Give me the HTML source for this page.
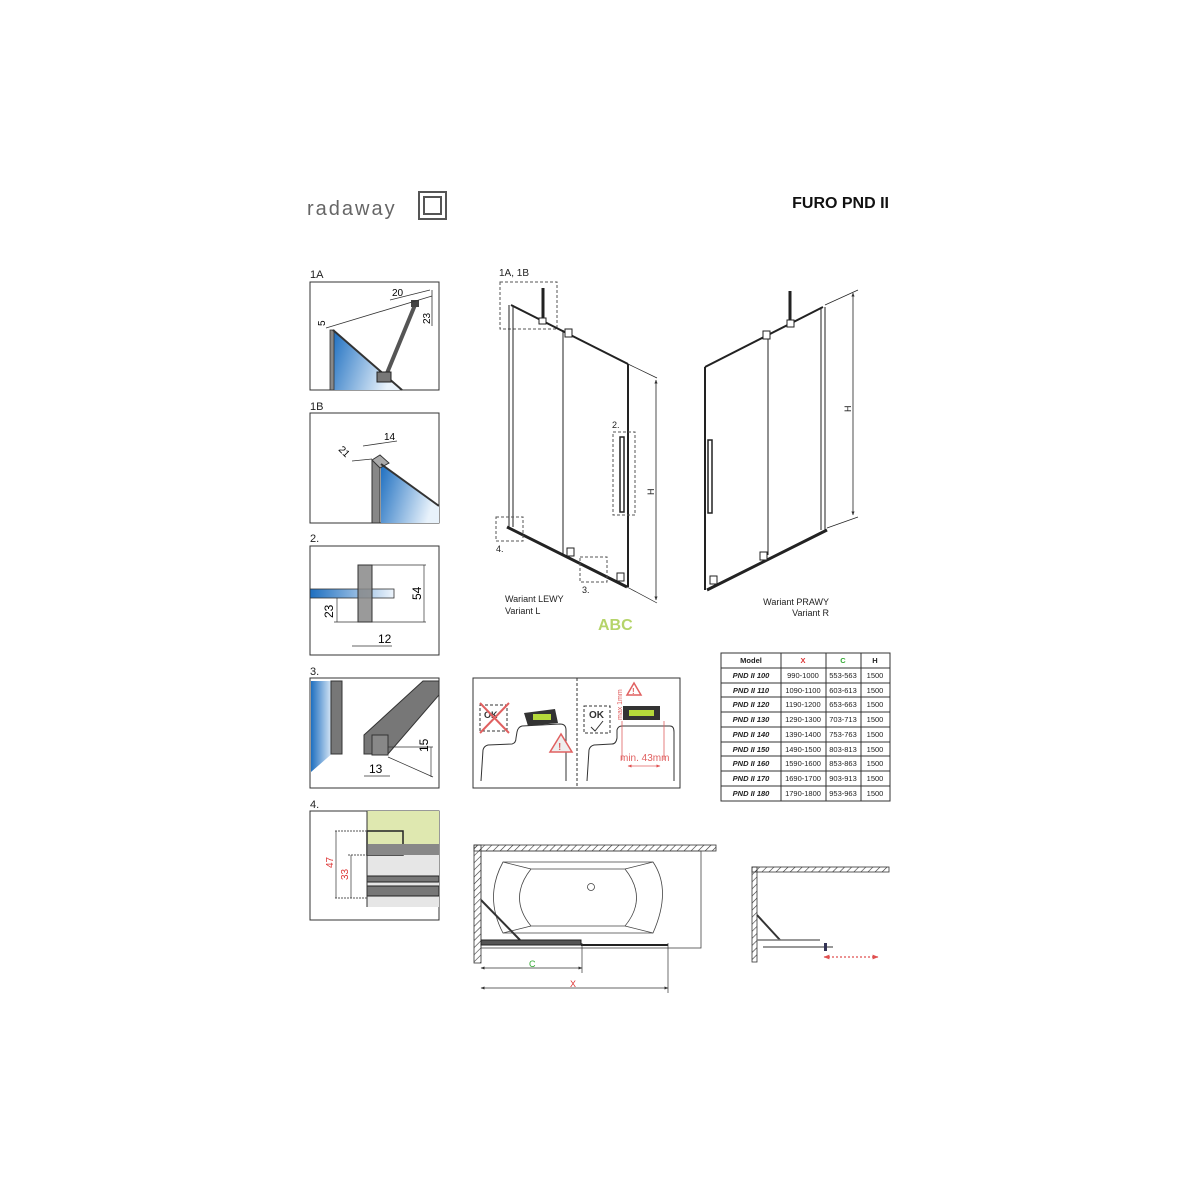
<!DOCTYPE html>
<html><head><meta charset="utf-8"><style>
html,body{margin:0;padding:0;background:#fff;}
svg{display:block;font-family:"Liberation Sans",sans-serif;}
</style></head><body>
<svg width="1200" height="1200" viewBox="0 0 1200 1200" xmlns="http://www.w3.org/2000/svg">
<defs>
<linearGradient id="g1" x1="0" y1="0" x2="1" y2="0.3"><stop offset="0" stop-color="#1e6fc0"/><stop offset="1" stop-color="#e8f2fb"/></linearGradient>
<linearGradient id="g2" x1="0" y1="0" x2="1" y2="0"><stop offset="0" stop-color="#1e6fc0"/><stop offset="1" stop-color="#eef5fc"/></linearGradient>
<pattern id="hatch" width="5" height="5" patternUnits="userSpaceOnUse" patternTransform="rotate(45)"><line x1="0" y1="0" x2="0" y2="5" stroke="#333" stroke-width="1.2"/></pattern>
<marker id="ar" viewBox="0 0 10 10" refX="9" refY="5" markerWidth="5" markerHeight="5" orient="auto-start-reverse"><path d="M0,1 L10,5 L0,9 Z" fill="#333"/></marker>
<marker id="arr" viewBox="0 0 10 10" refX="9" refY="5" markerWidth="5" markerHeight="5" orient="auto-start-reverse"><path d="M0,1 L10,5 L0,9 Z" fill="#e05050"/></marker>
</defs>
<!-- header -->
<text x="307" y="215" font-size="20" fill="#666" letter-spacing="2">radaway</text>
<rect x="419" y="192" width="27" height="27" fill="none" stroke="#555" stroke-width="2"/>
<rect x="424" y="197" width="17" height="17" fill="none" stroke="#555" stroke-width="2"/>
<text x="889" y="208" font-size="16" font-weight="bold" text-anchor="end" fill="#111">FURO PND II</text>

<g font-size="11" fill="#222">
<text x="310" y="278">1A</text><text x="310" y="410">1B</text><text x="310" y="542">2.</text><text x="310" y="675">3.</text><text x="310" y="808">4.</text>
</g>
<!-- 1A -->
<rect x="310" y="282" width="129" height="108" fill="#fff" stroke="#333"/>
<polygon points="333,330 400,390 333,390" fill="url(#g1)"/>
<rect x="330" y="330" width="4" height="60" fill="#888" stroke="#333" stroke-width="0.8"/>
<line x1="333" y1="330" x2="402" y2="390" stroke="#333" stroke-width="2"/>
<line x1="415" y1="305" x2="385" y2="378" stroke="#555" stroke-width="4"/>
<rect x="411" y="300" width="8" height="7" fill="#444"/>
<rect x="377" y="372" width="14" height="10" fill="#777" stroke="#222"/>
<line x1="326" y1="328" x2="432" y2="296" stroke="#333" stroke-width="0.8"/>
<line x1="390" y1="300" x2="430" y2="290" stroke="#333" stroke-width="0.8"/>
<line x1="432" y1="290" x2="432" y2="326" stroke="#333" stroke-width="0.8"/>
<text x="392" y="296" font-size="10">20</text>
<text transform="translate(430,324) rotate(-90)" font-size="10">23</text>
<text transform="translate(325,326) rotate(-90)" font-size="10">5</text>
<!-- 1B -->
<rect x="310" y="413" width="129" height="110" fill="#fff" stroke="#333"/>
<polygon points="381,464 439,506 439,523 381,523" fill="url(#g1)"/>
<rect x="372" y="460" width="8" height="63" fill="#888" stroke="#333"/>
<polygon points="372,460 380,455 389,463 380,468" fill="#aaa" stroke="#333"/>
<line x1="381" y1="464" x2="439" y2="506" stroke="#333" stroke-width="2"/>
<line x1="363" y1="446" x2="397" y2="441" stroke="#333" stroke-width="0.8"/>
<line x1="352" y1="461" x2="372" y2="459" stroke="#333" stroke-width="0.8"/>
<text x="384" y="440" font-size="10">14</text>
<text transform="translate(338,450) rotate(45)" font-size="10">21</text>
<!-- 2 -->
<rect x="310" y="546" width="129" height="109" fill="#fff" stroke="#333"/>
<rect x="310" y="589" width="84" height="9" fill="url(#g2)" stroke="#333" stroke-width="0.8"/>
<rect x="358" y="565" width="14" height="57" fill="#888" fill-opacity="0.85" stroke="#333"/>
<line x1="372" y1="565" x2="426" y2="565" stroke="#333" stroke-width="0.7"/>
<line x1="334" y1="622" x2="426" y2="622" stroke="#333" stroke-width="0.7"/>
<line x1="424" y1="565" x2="424" y2="622" stroke="#333" stroke-width="0.7"/>
<line x1="337" y1="598" x2="337" y2="622" stroke="#333" stroke-width="0.7"/>
<line x1="352" y1="646" x2="392" y2="646" stroke="#333" stroke-width="0.7"/>
<text x="378" y="643" font-size="12">12</text>
<text transform="translate(421,600) rotate(-90)" font-size="12">54</text>
<text transform="translate(333,618) rotate(-90)" font-size="12">23</text>
<!-- 3 -->
<rect x="310" y="678" width="129" height="110" fill="#fff" stroke="#333"/>
<polygon points="311,681 334,681 334,752 311,772" fill="url(#g2)"/>
<rect x="331" y="681" width="11" height="73" fill="#777" stroke="#333"/>
<polygon points="364,735 423,681 439,681 439,695 388,754 364,754" fill="#777" stroke="#333"/>
<rect x="372" y="735" width="16" height="20" fill="#888" stroke="#333"/>
<line x1="388" y1="747" x2="433" y2="747" stroke="#333" stroke-width="0.7"/>
<line x1="388" y1="757" x2="433" y2="777" stroke="#333" stroke-width="0.7"/>
<line x1="431" y1="747" x2="431" y2="777" stroke="#333" stroke-width="0.7"/>
<line x1="364" y1="776" x2="390" y2="776" stroke="#333" stroke-width="0.7"/>
<text x="369" y="773" font-size="12">13</text>
<text transform="translate(428,752) rotate(-90)" font-size="12">15</text>
<!-- 4 -->
<rect x="310" y="811" width="129" height="109" fill="#fff" stroke="#333"/>
<rect x="367" y="811" width="72" height="36" fill="#dfe8b0"/>
<rect x="367" y="847" width="72" height="60" fill="#e6e6e6"/>
<rect x="367" y="831" width="36" height="24" fill="#dfe8b0" stroke="#222" stroke-width="1.5"/>
<rect x="367" y="844" width="72" height="11" fill="#888"/>
<rect x="367" y="876" width="72" height="6" fill="#777" stroke="#222"/>
<rect x="367" y="886" width="72" height="10" fill="#777" stroke="#222"/>
<line x1="367" y1="811" x2="367" y2="907" stroke="#333"/>
<line x1="335" y1="831" x2="367" y2="831" stroke="#555" stroke-dasharray="2,1"/>
<line x1="348" y1="855" x2="367" y2="855" stroke="#555" stroke-dasharray="2,1"/>
<line x1="335" y1="898" x2="367" y2="898" stroke="#555" stroke-dasharray="2,1"/>
<line x1="336" y1="831" x2="336" y2="898" stroke="#333" stroke-width="0.7"/>
<line x1="351" y1="855" x2="351" y2="898" stroke="#333" stroke-width="0.7"/>
<text transform="translate(333,868) rotate(-90)" font-size="10" fill="#d33">47</text>
<text transform="translate(348,880) rotate(-90)" font-size="10" fill="#d33">33</text>

<!-- Left variant -->
<g stroke="#222" fill="none">
<text x="499" y="276" font-size="10" stroke="none" fill="#222">1A, 1B</text>
<rect x="500" y="282" width="57" height="47" stroke-dasharray="3,2" stroke="#555"/>
<line x1="543" y1="288" x2="543" y2="318" stroke-width="3"/>
<line x1="511" y1="305" x2="628" y2="364" stroke-width="2"/>
<line x1="509" y1="305" x2="509" y2="527" stroke-width="1"/>
<line x1="513" y1="305" x2="513" y2="527" stroke-width="1"/>
<line x1="563" y1="330" x2="563" y2="555" stroke-width="1"/>
<line x1="628" y1="364" x2="628" y2="587" stroke-width="2"/>
<line x1="507" y1="527" x2="627" y2="587" stroke-width="3"/>
<rect x="539" y="318" width="7" height="6" fill="#fff"/>
<rect x="565" y="329" width="7" height="8" fill="#fff"/>
<rect x="567" y="548" width="7" height="8" fill="#fff"/>
<rect x="617" y="573" width="7" height="8" fill="#fff"/>
<rect x="620" y="437" width="4" height="75" stroke-width="1.5"/>
<rect x="613" y="432" width="22" height="83" stroke-dasharray="3,2" stroke="#555"/>
<rect x="496" y="517" width="27" height="24" stroke-dasharray="3,2" stroke="#555"/>
<rect x="580" y="557" width="27" height="25" stroke-dasharray="3,2" stroke="#555"/>
<line x1="628" y1="364" x2="657" y2="378" stroke-width="0.7"/>
<line x1="627" y1="587" x2="657" y2="603" stroke-width="0.7"/>
<line x1="656" y1="380" x2="656" y2="600" stroke-width="0.8" marker-start="url(#ar)" marker-end="url(#ar)"/>
</g>
<g font-size="9" fill="#222">
<text x="612" y="428">2.</text><text x="496" y="552">4.</text><text x="582" y="593">3.</text>
<text x="505" y="602">Wariant LEWY</text><text x="505" y="614">Variant L</text>
<text transform="translate(654,495) rotate(-90)">H</text>
<text x="598" y="630" font-size="16" font-weight="bold" fill="#b5d46a">ABC</text>
</g>
<!-- Right variant -->
<g stroke="#222" fill="none">
<line x1="790" y1="291" x2="790" y2="325" stroke-width="3"/>
<line x1="705" y1="367" x2="823" y2="307" stroke-width="2"/>
<line x1="705" y1="367" x2="705" y2="590" stroke-width="2"/>
<line x1="768" y1="335" x2="768" y2="555" stroke-width="1"/>
<line x1="821" y1="307" x2="821" y2="530" stroke-width="1"/>
<line x1="825" y1="307" x2="825" y2="530" stroke-width="1"/>
<line x1="707" y1="590" x2="827" y2="530" stroke-width="3"/>
<rect x="708" y="440" width="4" height="73" stroke-width="1.5"/>
<rect x="787" y="320" width="7" height="7" fill="#fff"/>
<rect x="763" y="331" width="7" height="8" fill="#fff"/>
<rect x="760" y="552" width="7" height="8" fill="#fff"/>
<rect x="710" y="576" width="7" height="8" fill="#fff"/>
<line x1="825" y1="305" x2="858" y2="290" stroke-width="0.7"/>
<line x1="827" y1="528" x2="858" y2="517" stroke-width="0.7"/>
<line x1="853" y1="293" x2="853" y2="515" stroke-width="0.8" marker-start="url(#ar)" marker-end="url(#ar)"/>
</g>
<g font-size="9" fill="#222">
<text transform="translate(851,412) rotate(-90)">H</text>
<text x="829" y="605" text-anchor="end">Wariant PRAWY</text><text x="829" y="616" text-anchor="end">Variant R</text>
</g>

<!-- level panel -->
<rect x="473" y="678" width="207" height="110" fill="#fff" stroke="#333"/>
<line x1="577" y1="678" x2="577" y2="788" stroke="#333" stroke-dasharray="3,2"/>
<path d="M481,781 L483,750 Q484,746 488,745 L512,744 Q516,743 516,738 L517,732 Q518,727 522,726 L560,724 Q566,724 566,730 L566,781" fill="none" stroke="#333"/>
<path d="M587,781 L589,750 Q590,746 594,745 L612,744 Q616,744 617,738 L617,730 Q618,726 622,726 L670,726 Q674,726 674,732 L674,781" fill="none" stroke="#333"/>
<polygon points="524,713 555,709 558,723 528,726" fill="#333"/>
<rect x="533" y="714" width="18" height="6" fill="#b5d93a"/>
<rect x="623" y="706" width="37" height="14" fill="#333"/>
<rect x="629" y="710" width="25" height="6" fill="#b5d93a"/>
<rect x="480" y="705" width="27" height="26" fill="none" stroke="#333" stroke-dasharray="3,2"/>
<text x="484" y="718" font-size="9" font-weight="bold" fill="#333">OK</text>
<line x1="480" y1="703" x2="509" y2="733" stroke="#e06060" stroke-width="2"/>
<line x1="509" y1="703" x2="480" y2="733" stroke="#e06060" stroke-width="2"/>
<polygon points="561,734 550,752 572,752" fill="#eee" stroke="#e06060" stroke-width="1.5"/>
<text x="558" y="750" font-size="10" font-weight="bold" fill="#e06060">!</text>
<rect x="584" y="706" width="26" height="27" fill="none" stroke="#333" stroke-dasharray="3,2"/>
<text x="589" y="718" font-size="10" font-weight="bold" fill="#333">OK</text>
<path d="M591,727 L595,731 L603,721" fill="none" stroke="#333"/>
<polygon points="634,683 627,695 641,695" fill="none" stroke="#e06060" stroke-width="1.5"/>
<text x="632" y="694" font-size="8" font-weight="bold" fill="#e06060">!</text>
<line x1="622" y1="721" x2="622" y2="760" stroke="#e06060" stroke-width="0.8"/>
<line x1="664" y1="721" x2="664" y2="760" stroke="#e06060" stroke-width="0.8"/>
<line x1="628" y1="766" x2="660" y2="766" stroke="#e06060" stroke-width="0.8" marker-start="url(#arr)" marker-end="url(#arr)"/>
<text x="620" y="761" font-size="10" fill="#e06060">min. 43mm</text>
<text transform="translate(622,720) rotate(-90)" font-size="7" fill="#e06060">max 1mm</text>

<!-- table -->
<g font-size="7.5" fill="#222">
<rect x="721" y="653" width="169" height="148" fill="#fff" stroke="#333"/>
<line x1="781" y1="653" x2="781" y2="801" stroke="#333"/>
<line x1="826" y1="653" x2="826" y2="801" stroke="#333"/>
<line x1="861" y1="653" x2="861" y2="801" stroke="#333"/>
<text x="751" y="663" text-anchor="middle" font-weight="bold">Model</text>
<text x="803" y="663" text-anchor="middle" font-weight="bold" fill="#d33">X</text>
<text x="843" y="663" text-anchor="middle" font-weight="bold" fill="#3a3">C</text>
<text x="875" y="663" text-anchor="middle" font-weight="bold">H</text>
<g stroke="#333">
<line x1="721" y1="668" x2="890" y2="668"/><line x1="721" y1="683" x2="890" y2="683"/><line x1="721" y1="697" x2="890" y2="697"/><line x1="721" y1="712" x2="890" y2="712"/><line x1="721" y1="727" x2="890" y2="727"/><line x1="721" y1="742" x2="890" y2="742"/><line x1="721" y1="756" x2="890" y2="756"/><line x1="721" y1="771" x2="890" y2="771"/><line x1="721" y1="786" x2="890" y2="786"/>
</g>
<g font-weight="bold" font-style="italic" text-anchor="middle">
<text x="751" y="678">PND II 100</text><text x="751" y="693">PND II 110</text><text x="751" y="707">PND II 120</text><text x="751" y="722">PND II 130</text><text x="751" y="737">PND II 140</text><text x="751" y="752">PND II 150</text><text x="751" y="766">PND II 160</text><text x="751" y="781">PND II 170</text><text x="751" y="796">PND II 180</text>
</g>
<g text-anchor="middle">
<text x="803" y="678">990-1000</text><text x="803" y="693">1090-1100</text><text x="803" y="707">1190-1200</text><text x="803" y="722">1290-1300</text><text x="803" y="737">1390-1400</text><text x="803" y="752">1490-1500</text><text x="803" y="766">1590-1600</text><text x="803" y="781">1690-1700</text><text x="803" y="796">1790-1800</text>
<text x="843" y="678">553-563</text><text x="843" y="693">603-613</text><text x="843" y="707">653-663</text><text x="843" y="722">703-713</text><text x="843" y="737">753-763</text><text x="843" y="752">803-813</text><text x="843" y="766">853-863</text><text x="843" y="781">903-913</text><text x="843" y="796">953-963</text>
<text x="875" y="678">1500</text><text x="875" y="693">1500</text><text x="875" y="707">1500</text><text x="875" y="722">1500</text><text x="875" y="737">1500</text><text x="875" y="752">1500</text><text x="875" y="766">1500</text><text x="875" y="781">1500</text><text x="875" y="796">1500</text>
</g>
</g>

<!-- bath plan -->
<rect x="474" y="845" width="242" height="6" fill="url(#hatch)" stroke="#333" stroke-width="0.8"/>
<rect x="474" y="845" width="7" height="118" fill="url(#hatch)" stroke="#333" stroke-width="0.8"/>
<rect x="481" y="851" width="220" height="97" fill="none" stroke="#444" stroke-width="0.8"/>
<g fill="none" stroke="#444" stroke-width="0.8">
<path d="M503,862 L653,862 Q672,890 653,933 L503,933 Q484,897 503,862 Z"/>
<path d="M531,869 L625,869 Q648,898 625,926 L531,926 Q508,898 531,869 Z"/>
<line x1="503" y1="862" x2="531" y2="869"/><line x1="653" y1="862" x2="625" y2="869"/><line x1="503" y1="933" x2="531" y2="926"/><line x1="653" y1="933" x2="625" y2="926"/>
<circle cx="591" cy="887" r="3.5"/>
</g>
<line x1="481" y1="900" x2="520" y2="940" stroke="#333" stroke-width="2"/>
<rect x="481" y="940" width="100" height="5" fill="#555" stroke="#222"/>
<line x1="581" y1="945" x2="668" y2="945" stroke="#222" stroke-width="2"/>
<line x1="582" y1="943" x2="582" y2="973" stroke="#333" stroke-width="0.7"/>
<line x1="668" y1="943" x2="668" y2="993" stroke="#333" stroke-width="0.7"/>
<line x1="481" y1="968" x2="582" y2="968" stroke="#333" stroke-width="0.8" marker-start="url(#ar)" marker-end="url(#ar)"/>
<line x1="481" y1="988" x2="668" y2="988" stroke="#333" stroke-width="0.8" marker-start="url(#ar)" marker-end="url(#ar)"/>
<text x="529" y="967" font-size="9" fill="#3a3">C</text>
<text x="570" y="987" font-size="9" fill="#d33">X</text>
<!-- small plan -->
<rect x="752" y="867" width="137" height="5" fill="url(#hatch)" stroke="#333" stroke-width="0.8"/>
<rect x="752" y="867" width="5" height="95" fill="url(#hatch)" stroke="#333" stroke-width="0.8"/>
<line x1="757" y1="915" x2="780" y2="940" stroke="#333" stroke-width="2"/>
<line x1="757" y1="940" x2="820" y2="940" stroke="#777" stroke-width="1.5"/>
<line x1="763" y1="947" x2="833" y2="947" stroke="#777" stroke-width="1.5"/>
<rect x="824" y="943" width="3" height="8" fill="#335"/>
<line x1="824" y1="957" x2="878" y2="957" stroke="#e05050" stroke-width="1.2" stroke-dasharray="2,2" marker-start="url(#arr)" marker-end="url(#arr)"/>
</svg>
</body></html>
